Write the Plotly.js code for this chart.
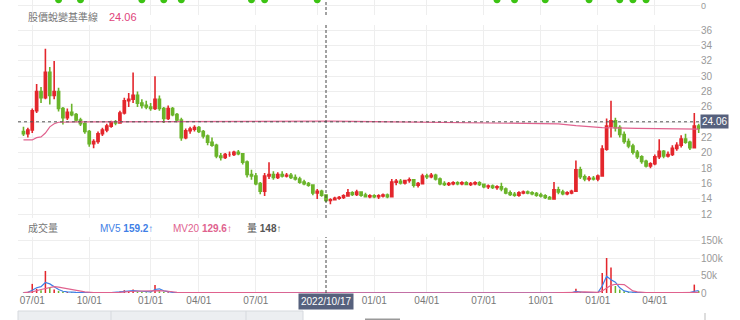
<!DOCTYPE html>
<html><head><meta charset="utf-8">
<script src="https://cdn.plot.ly/plotly-3.0.1.min.js"></script>
<style>html,body{margin:0;padding:0;background:#fff;}#chart{width:740px;height:320px;}</style>
</head><body><div id="chart"></div>
<script>
const weeks = ['2021-06-14','2021-06-21','2021-06-28','2021-07-05','2021-07-12','2021-07-19','2021-07-26','2021-08-02','2021-08-09','2021-08-16',
'2021-08-23','2021-08-30','2021-09-06','2021-09-13','2021-09-20','2021-09-27','2021-10-04','2021-10-11','2021-10-18','2021-10-25',
'2021-11-01','2021-11-08','2021-11-15','2021-11-22','2021-11-29','2021-12-06','2021-12-13','2021-12-20','2021-12-27','2022-01-03',
'2022-01-10','2022-01-17','2022-01-24','2022-02-07','2022-02-14','2022-02-21','2022-02-28','2022-03-07','2022-03-14','2022-03-21',
'2022-03-28','2022-04-04','2022-04-11','2022-04-18','2022-04-25','2022-05-02','2022-05-09','2022-05-16','2022-05-23','2022-05-30',
'2022-06-06','2022-06-13','2022-06-20','2022-06-27','2022-07-04','2022-07-11','2022-07-18','2022-07-25','2022-08-01','2022-08-08',
'2022-08-15','2022-08-22','2022-08-29','2022-09-05','2022-09-12','2022-09-19','2022-09-26','2022-10-03','2022-10-10','2022-10-17',
'2022-10-24','2022-10-31','2022-11-07','2022-11-14','2022-11-21','2022-11-28','2022-12-05','2022-12-12','2022-12-19','2022-12-26',
'2023-01-02','2023-01-09','2023-01-16','2023-01-30','2023-02-06','2023-02-13','2023-02-20','2023-02-27','2023-03-06','2023-03-13',
'2023-03-20','2023-03-27','2023-04-03','2023-04-10','2023-04-17','2023-04-24','2023-05-01','2023-05-08','2023-05-15','2023-05-22',
'2023-05-29','2023-06-05','2023-06-12','2023-06-19','2023-06-26','2023-07-03','2023-07-10','2023-07-17','2023-07-24','2023-07-31',
'2023-08-07','2023-08-14','2023-08-21','2023-08-28','2023-09-04','2023-09-11','2023-09-18','2023-09-25','2023-10-02','2023-10-09',
'2023-10-16','2023-10-23','2023-10-30','2023-11-06','2023-11-13','2023-11-20','2023-11-27','2023-12-04','2023-12-11','2023-12-18',
'2023-12-25','2024-01-01','2024-01-08','2024-01-15','2024-01-22','2024-01-29','2024-02-05','2024-02-12','2024-02-19','2024-02-26',
'2024-03-04','2024-03-11','2024-03-18','2024-03-25','2024-04-01','2024-04-08','2024-04-15','2024-04-22','2024-04-29','2024-05-06',
'2024-05-13','2024-05-20','2024-05-27','2024-06-03','2024-06-10'];

const openP = [22.8,22.5,23.0,25.5,28.0,27.2,30.5,27.5,28.0,25.8,
24.6,25.3,25.0,24.3,23.8,22.8,21.2,21.5,22.5,23.0,
23.5,24.0,23.9,25.2,26.8,27.0,27.5,26.5,26.2,26.0,
25.8,27.0,25.8,24.5,25.8,25.0,24.3,22.0,22.9,23.1,
23.3,22.8,22.2,21.4,21.0,19.6,19.4,19.8,19.8,20.1,
19.9,18.8,17.2,17.0,16.0,15.0,17.0,17.2,16.8,17.2,
17.0,17.1,16.8,16.6,16.2,16.0,15.8,14.8,15.0,14.5,
13.8,13.9,14.1,14.2,14.4,14.8,14.6,14.9,14.5,14.3,
14.4,14.3,14.4,14.5,14.3,16.2,16.3,16.1,16.4,16.5,
15.8,16.0,17.0,16.9,17.1,16.6,16.0,15.9,16.0,16.1,
16.0,16.1,15.9,16.0,16.1,15.9,15.6,15.7,15.5,15.6,
15.3,14.8,14.6,14.5,14.8,14.9,14.8,14.7,14.5,14.4,
14.2,14.0,15.2,14.9,14.7,14.8,15.0,17.8,16.9,16.6,
16.7,16.6,17.0,20.5,23.5,24.2,23.3,22.4,21.5,20.9,
20.1,19.5,18.9,18.3,18.6,19.5,20.2,19.6,19.8,20.6,
21.0,21.8,21.4,20.7,23.5];
const highP = [23.4,23.3,25.8,29.0,28.6,33.6,31.2,32.0,28.5,26.0,
25.8,26.4,25.2,24.6,24.0,23.0,21.8,22.8,23.3,23.8,
24.2,24.3,25.5,27.2,27.8,30.5,28.0,27.0,26.8,26.5,
30.0,27.5,26.0,26.2,26.0,25.2,24.6,23.2,23.4,23.6,
23.5,23.0,22.4,22.0,21.2,20.0,20.0,20.2,20.3,20.4,
20.0,19.0,17.8,17.4,16.2,17.4,18.8,17.6,17.5,17.6,
17.4,17.4,17.2,16.9,16.5,16.2,15.9,15.3,15.2,14.6,
14.1,14.3,14.4,14.6,15.3,15.0,15.2,15.0,14.8,14.6,
14.6,14.6,14.7,14.7,16.6,16.6,16.6,16.5,16.8,16.6,
16.2,17.3,17.3,17.4,17.3,16.8,16.3,16.2,16.3,16.3,
16.3,16.3,16.2,16.3,16.3,16.0,15.9,15.9,15.8,16.1,
15.5,15.1,14.9,15.0,15.1,15.1,15.0,14.9,14.8,14.6,
14.4,16.2,15.6,15.2,15.0,15.2,19.0,18.2,17.2,17.0,
17.0,17.2,21.0,24.5,26.8,24.6,23.6,22.8,21.9,21.2,
20.4,19.7,19.1,18.8,19.8,21.8,20.4,20.2,21.0,21.4,
22.3,22.5,21.6,25.2,23.8];
const lowP = [22.2,22.0,22.6,25.2,26.5,27.0,26.3,27.0,25.4,23.7,
24.3,24.8,24.0,23.5,22.5,20.8,20.6,21.2,22.2,22.7,
23.3,23.6,23.8,25.0,26.0,26.5,26.0,25.8,25.7,25.5,
25.6,25.5,23.9,24.3,24.8,24.0,21.6,21.8,22.5,22.8,
22.6,21.9,21.0,20.8,19.3,19.0,19.2,19.5,19.6,19.7,
18.5,16.8,16.5,15.8,14.6,14.4,16.6,16.5,16.6,16.8,
16.8,16.6,16.4,16.0,15.8,15.6,14.5,14.0,14.3,13.6,
13.3,13.8,13.9,14.0,14.3,14.4,14.4,14.3,14.2,14.1,
14.1,14.0,14.2,14.1,14.2,15.8,15.9,15.9,16.1,15.5,
15.5,15.9,16.6,16.7,16.4,15.8,15.7,15.7,15.8,15.8,
15.8,15.8,15.7,15.8,15.7,15.4,15.3,15.3,15.2,15.0,
14.6,14.4,14.3,14.3,14.6,14.6,14.5,14.3,14.2,14.0,
13.9,13.9,14.6,14.5,14.5,14.6,15.0,16.6,16.3,16.3,
16.4,16.3,16.9,20.3,22.0,22.8,22.0,21.2,20.6,19.8,
19.2,18.6,18.1,18.0,18.4,19.2,19.3,19.4,19.6,20.3,
20.7,21.2,20.4,20.6,22.6];
const closeP = [22.5,23.0,25.5,28.0,27.2,30.5,27.5,28.0,25.8,24.6,
25.3,25.0,24.3,23.8,22.8,21.2,21.5,22.5,23.0,23.5,
24.0,23.9,25.2,26.8,27.0,27.5,26.5,26.2,26.0,25.8,
27.0,25.8,24.5,25.8,25.0,24.3,22.0,22.9,23.1,23.3,
22.8,22.2,21.4,21.0,19.6,19.4,19.8,19.8,20.1,19.9,
18.8,17.2,17.0,16.0,15.0,17.0,17.2,16.8,17.2,17.0,
17.1,16.8,16.6,16.2,16.0,15.8,14.8,15.0,14.5,13.8,
13.9,14.1,14.2,14.4,14.8,14.6,14.9,14.5,14.3,14.4,
14.3,14.4,14.5,14.3,16.2,16.3,16.1,16.4,16.5,15.8,
16.0,17.0,16.9,17.1,16.6,16.0,15.9,16.0,16.1,16.0,
16.1,15.9,16.0,16.1,15.9,15.6,15.7,15.5,15.6,15.3,
14.8,14.6,14.5,14.8,14.9,14.8,14.7,14.5,14.4,14.2,
14.0,15.2,14.9,14.7,14.8,15.0,17.8,16.9,16.6,16.7,
16.6,17.0,20.5,23.5,24.2,23.3,22.4,21.5,20.9,20.1,
19.5,18.9,18.3,18.6,19.5,20.2,19.6,19.8,20.6,21.0,
21.8,21.4,20.7,23.5,23.2];
const volume = [1000,2000,26000,12000,8000,63000,15000,10000,6000,4000,
3000,2000,1500,1000,800,700,600,600,700,800,
900,1000,4000,8000,5000,10000,4000,3000,2000,2000,
23000,5000,3000,2000,1000,800,900,700,500,500,
500,400,400,400,400,300,300,300,300,300,
400,400,300,300,400,500,400,300,300,300,
300,300,300,300,300,300,300,300,300,300,
300,300,300,300,300,300,300,300,300,300,
300,300,300,300,500,400,300,300,300,300,
300,300,300,300,300,300,300,300,300,300,
300,300,300,300,300,300,300,300,300,300,
300,300,300,300,300,300,300,300,300,300,
300,400,300,300,300,300,12000,3000,1000,700,
600,800,57000,100000,73000,20000,10000,5000,3000,2000,
1500,1000,800,700,900,1500,1000,800,900,1000,
1200,1000,900,24000,6000];

const maDates = ['2021-06-14','2021-06-28','2021-07-05','2021-07-12','2021-07-19','2021-07-26','2021-08-02','2021-08-09','2021-09-06','2022-01-10','2022-06-06','2022-10-24','2023-02-13','2023-05-29','2023-08-07','2023-10-30','2023-11-27','2024-01-08','2024-03-04','2024-06-10'];
const maVals = [21.7,21.7,22.0,22.1,22.6,23.4,23.8,24.0,24.05,24.1,24.15,24.15,24.05,23.95,23.9,23.8,23.55,23.3,23.2,23.1];

const mv5Dates = ['2021-06-14','2021-06-21','2021-06-28','2021-07-05','2021-07-12','2021-07-19','2021-07-26','2021-08-02','2021-08-09','2021-08-16','2021-08-23','2021-09-06','2021-09-27','2021-11-01','2021-11-15','2021-11-29','2021-12-06','2021-12-20','2022-01-03','2022-01-10','2022-01-17','2022-01-24','2022-02-14','2022-02-28','2022-03-28','2022-08-15','2023-01-02','2023-05-29','2023-10-16','2023-11-20','2023-11-27','2023-12-04','2023-12-11','2024-01-01','2024-01-08','2024-01-15','2024-01-22','2024-01-29','2024-02-05','2024-02-12','2024-02-19','2024-03-04','2024-05-13','2024-05-27','2024-06-03','2024-06-10'];
const mv5Vals = [1000,2000,8000,15000,18000,30000,26000,18000,10000,5000,3000,2000,1000,1000,3000,6000,7000,5000,3000,10000,12000,6000,2000,1000,500,400,400,400,400,500,5000,4000,1500,1000,20000,48000,38000,31000,15000,6000,3000,1500,1000,1000,5000,7000];
const mv20Dates = ['2021-06-14','2021-06-28','2021-07-12','2021-07-26','2021-08-02','2021-08-09','2021-08-23','2021-09-06','2021-09-20','2021-10-04','2021-11-01','2021-11-15','2021-12-06','2021-12-20','2022-01-03','2022-01-17','2022-02-07','2022-02-21','2022-03-14','2022-05-02','2023-01-02','2023-10-16','2023-11-20','2023-11-27','2023-12-11','2024-01-01','2024-01-08','2024-01-15','2024-01-22','2024-01-29','2024-02-05','2024-02-12','2024-02-19','2024-02-26','2024-03-04','2024-03-18','2024-05-13','2024-06-03','2024-06-10'];
const mv20Vals = [1000,3000,10000,15000,18000,17000,12000,6000,3000,1500,1000,2000,5000,6000,6000,7000,5000,2000,1000,600,500,500,500,2000,3000,2000,6000,14000,22000,25000,25000,24000,15000,6000,3000,1500,1000,1500,2000];

const dotDates = ['2021-08-09','2021-09-13','2021-12-20','2022-01-24','2022-02-28','2022-06-20','2022-07-11','2022-10-03','2023-07-24','2023-08-21','2023-10-09','2023-12-18','2024-02-05','2024-02-26','2024-03-18'];
const dotVals = [1.6,1.6,1.6,1.6,1.6,1.6,1.6,1.6,1.6,1.6,1.6,1.6,1.6,1.6,1.6];

const tickWeeks = ['2021-06-28','2021-09-27','2022-01-03','2022-03-28','2022-06-27','2022-10-03','2023-01-02','2023-04-03','2023-07-03','2023-10-02','2024-01-01','2024-04-01'];
// the 2022 10/01 label sits under the date box in the reference, so it is left blank
const tickLabels = ['07/01','10/01','01/01','04/01','07/01','','01/01','04/01','07/01','10/01','01/01','04/01'];
const priceTicks = [12,14,16,18,20,22,24,26,28,30,32,34,36];
const priceTickText = ['12','14','16','18','20','22','','26','28','30','32','34','36'];
const volTicks = [0,50000,100000,150000];
const volTickLabels = ['0','50k','100k','150k'];
const baseLine = 24.06;
const markDate = '2022-10-17';

const UP = '#e3262c', DOWN = '#6ab42a', PINK = '#e0628e', BLUE = '#3f7fe6', SLATE = '#56617d';
const FONT = 'Liberation Sans, Arial, Noto Sans CJK TC, sans-serif';

// pixel helpers for placing text (plot area: x 18..700, y 0..293)
const PL = 18, PW = 682, PH = 293;
const px = v => (v - PL) / PW;
const py = v => (PH - v) / PH;

const volColors = closeP.map((c, i) => c >= openP[i] ? UP : DOWN);

const traces = [
  {type:'candlestick', x:weeks, open:openP, high:highP, low:lowP, close:closeP, xaxis:'x', yaxis:'y',
   increasing:{line:{color:UP, width:1.6}, fillcolor:UP},
   decreasing:{line:{color:DOWN, width:1.6}, fillcolor:DOWN},
   whiskerwidth:0, hoverinfo:'skip'},
  {type:'scatter', mode:'lines', x:maDates, y:maVals, xaxis:'x', yaxis:'y',
   line:{color:PINK, width:1.2}, hoverinfo:'skip'},
  {type:'bar', x:weeks, y:volume, xaxis:'x', yaxis:'y2', width:0.35,
   marker:{color:volColors, line:{width:0}}, hoverinfo:'skip'},
  {type:'scatter', mode:'lines', x:mv5Dates, y:mv5Vals, xaxis:'x', yaxis:'y2',
   line:{color:BLUE, width:1.2}, hoverinfo:'skip'},
  {type:'scatter', mode:'lines', x:mv20Dates, y:mv20Vals, xaxis:'x', yaxis:'y2',
   line:{color:PINK, width:1.2}, hoverinfo:'skip'},
  {type:'scatter', mode:'markers', x:dotDates, y:dotVals, xaxis:'x', yaxis:'y3',
   marker:{color:'#3cc313', size:7}, hoverinfo:'skip', cliponaxis:true}
];

const grid = '#eeeeee';
const layout = {
  width:740, height:320, showlegend:false,
  paper_bgcolor:'#ffffff', plot_bgcolor:'#ffffff',
  margin:{l:PL, r:40, t:0, b:27},
  font:{family:FONT, size:10, color:'#888'},
  xaxis:{type:'category', categoryorder:'array', categoryarray:weeks, anchor:'y2', range:[-1.25, 154.3],
    tickvals:tickWeeks, ticktext:tickLabels,
    showgrid:true, gridcolor:grid, zeroline:false, showline:false, ticks:'',
    tickfont:{size:10, color:'#777'}, rangeslider:{visible:false}, fixedrange:true},
  yaxis:{domain:[py(218), py(25)], range:[11.52, 36.68], side:'right', anchor:'x',
    tickvals:priceTicks, ticktext:priceTickText, showgrid:true, gridcolor:grid, zeroline:false, ticks:'',
    tickfont:{size:10, color:'#999'}},
  yaxis2:{domain:[0, py(237)], range:[0, 160000], side:'right', anchor:'x',
    tickvals:volTicks, ticktext:volTickLabels, showgrid:true, gridcolor:grid, zeroline:false, ticks:'',
    tickfont:{size:10, color:'#999'}},
  yaxis3:{domain:[py(15), 1], range:[-2.5, 1.5], side:'right', anchor:'x',
    tickvals:[0], ticktext:['0'], showgrid:true, gridcolor:grid, zeroline:false, ticks:'',
    tickfont:{size:9, color:'#999'}},
  shapes:[
    {type:'line', xref:'x domain', x0:0, x1:1, yref:'y', y0:baseLine, y1:baseLine,
     line:{color:'#555', width:1, dash:'3px,3px'}},
    {type:'line', xref:'x', x0:markDate, x1:markDate, yref:'y domain', y0:0, y1:1, line:{color:'#444', width:1, dash:'3px,2px'}},
    {type:'line', xref:'x', x0:markDate, x1:markDate, yref:'y2 domain', y0:0, y1:1, line:{color:'#444', width:1, dash:'3px,2px'}},
    {type:'line', xref:'x', x0:markDate, x1:markDate, yref:'y3 domain', y0:0, y1:1, line:{color:'#444', width:1, dash:'3px,2px'}},
    {type:'rect', xref:'paper', yref:'paper', x0:px(18), x1:px(303), y0:py(320.5), y1:py(311), fillcolor:'#eceef1', line:{color:'#d6d9de', width:1}, layer:'above'},
    {type:'line', xref:'paper', yref:'paper', x0:px(111), x1:px(111), y0:py(320), y1:py(311), line:{color:'#d6d9de', width:1}},
    {type:'line', xref:'paper', yref:'paper', x0:px(246), x1:px(246), y0:py(320), y1:py(311), line:{color:'#d6d9de', width:1}},
    {type:'line', xref:'paper', yref:'paper', x0:px(365), x1:px(400), y0:py(319.5), y1:py(319.5), line:{color:'#999', width:2}},
    {type:'line', xref:'paper', yref:'paper', x0:px(705), x1:px(705), y0:py(320), y1:py(313), line:{color:'#bbb', width:1}}
  ],
  annotations:[
    {xref:'paper', yref:'paper', x:px(26), y:py(17), xanchor:'left', yanchor:'middle', showarrow:false,
     text:'股價蛻變基準線', font:{size:10, color:'#777'}},
    {xref:'paper', yref:'paper', x:px(107), y:py(17), xanchor:'left', yanchor:'middle', showarrow:false,
     text:String(baseLine), font:{size:11, color:'#e0457b'}},
    {xref:'paper', yref:'paper', x:px(26), y:py(228), xanchor:'left', yanchor:'middle', showarrow:false,
     text:'成交量', font:{size:10, color:'#777'}},
    {xref:'paper', yref:'paper', x:px(98), y:py(228), xanchor:'left', yanchor:'middle', showarrow:false,
     text:'MV5 <b>159.2↑</b>', font:{size:10, color:BLUE}},
    {xref:'paper', yref:'paper', x:px(171), y:py(228), xanchor:'left', yanchor:'middle', showarrow:false,
     text:'MV20 <b>129.6↑</b>', font:{size:10, color:PINK}},
    {xref:'paper', yref:'paper', x:px(245), y:py(228), xanchor:'left', yanchor:'middle', showarrow:false,
     text:'量 <b>148↑</b>', font:{size:10, color:'#555'}},
    {xref:'paper', yref:'y', x:1, y:baseLine, xanchor:'left', yanchor:'middle', showarrow:false,
     text:String(baseLine), bgcolor:SLATE, borderpad:1, font:{size:10, color:'#fff'}},
    {xref:'x', yref:'paper', x:markDate, y:0, xanchor:'center', yanchor:'top', showarrow:false,
     text:'2022/10/17', bgcolor:SLATE, borderpad:2, font:{size:10, color:'#fff'}}
  ]
};

Plotly.newPlot('chart', traces, layout, {staticPlot:true, displayModeBar:false});
</script>
</body></html>
